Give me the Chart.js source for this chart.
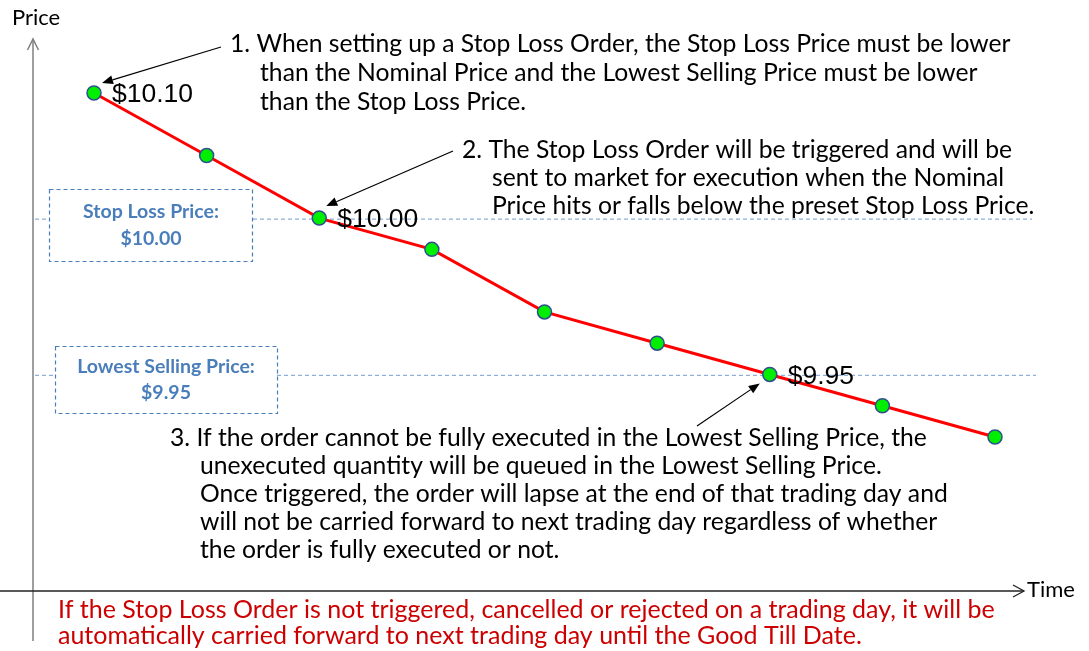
<!DOCTYPE html>
<html>
<head>
<meta charset="utf-8">
<script src="https://cdn.jsdelivr.net/npm/chart.js@4"></script>
<style>
  html, body { margin: 0; padding: 0; background: #ffffff; }
  #wrap { width: 1089px; height: 651px; }
</style>
</head>
<body>
<div id="wrap"><canvas id="c" width="1089" height="651"></canvas></div>
<script>
// ---- data ----
const categories = ['t1', 't2', 't3', 't4', 't5', 't6', 't7', 't8', 't9'];
const priceLevel = [11, 9, 7, 6, 4, 3, 2, 1, 0];
const pointLabels = ['$10.10', '', '$10.00', '', '', '', '$9.95', '', ''];
const stopLossLevel = 7;
const lowestSellingLevel = 2;
const stopLossBoxText = ['Stop Loss Price:', '$10.00'];
const lowestBoxText = ['Lowest Selling Price:', '$9.95'];
const note1 = ['1. When setting up a Stop Loss Order, the Stop Loss Price must be lower',
               'than the Nominal Price and the Lowest Selling Price must be lower',
               'than the Stop Loss Price.'];
const note2 = ['2. The Stop Loss Order will be triggered and will be',
               'sent to market for execution when the Nominal',
               'Price hits or falls below the preset Stop Loss Price.'];
const note3 = ['3. If the order cannot be fully executed in the Lowest Selling Price, the',
               'unexecuted quantity will be queued in the Lowest Selling Price.',
               'Once triggered, the order will lapse at the end of that trading day and',
               'will not be carried forward to next trading day regardless of whether',
               'the order is fully executed or not.'];
const footNote = ['If the Stop Loss Order is not triggered, cancelled or rejected on a trading day, it will be',
                  'automatically carried forward to next trading day until the Good Till Date.'];
const axisTitles = { y: 'Price', x: 'Time' };

const TEXT_FONT = '"Lato", "Open Sans", sans-serif';
const BOX_BLUE = '#4a7ebb';
const DASH_BLUE = '#8eaedb';

function arrow(ctx, x0, y0, x1, y1) {
  const ang = Math.atan2(y1 - y0, x1 - x0);
  const len = 11, w = 4.5;
  ctx.save();
  ctx.strokeStyle = '#000'; ctx.fillStyle = '#000'; ctx.lineWidth = 1.2;
  ctx.beginPath();
  ctx.moveTo(x0, y0);
  ctx.lineTo(x1 - Math.cos(ang) * len, y1 - Math.sin(ang) * len);
  ctx.stroke();
  ctx.beginPath();
  ctx.moveTo(x1, y1);
  ctx.lineTo(x1 - Math.cos(ang) * len - Math.sin(ang) * w, y1 - Math.sin(ang) * len + Math.cos(ang) * w);
  ctx.lineTo(x1 - Math.cos(ang) * len + Math.sin(ang) * w, y1 - Math.sin(ang) * len - Math.cos(ang) * w);
  ctx.closePath();
  ctx.fill();
  ctx.restore();
}

function lines(ctx, arr, x0, xRest, y0, dy) {
  arr.forEach((t, i) => ctx.fillText(t, i === 0 ? x0 : xRest, y0 + i * dy));
}

const diagram = {
  id: 'diagram',
  beforeDatasetsDraw(chart) {
    const ctx = chart.ctx;
    const ys = chart.scales.y;
    ctx.save();
    // Y axis
    ctx.strokeStyle = '#7f7f7f'; ctx.lineWidth = 1.5;
    ctx.beginPath(); ctx.moveTo(33, 641); ctx.lineTo(33, 39); ctx.stroke();
    ctx.beginPath(); ctx.moveTo(27.5, 50); ctx.lineTo(33, 39); ctx.lineTo(38.5, 50); ctx.stroke();
    // X axis
    ctx.strokeStyle = '#222'; ctx.lineWidth = 1.3;
    ctx.beginPath(); ctx.moveTo(0, 591); ctx.lineTo(1024, 591); ctx.stroke();
    ctx.beginPath(); ctx.moveTo(1013, 585); ctx.lineTo(1024, 591); ctx.lineTo(1013, 597); ctx.stroke();
    // dashed reference lines
    const ySL = ys.getPixelForValue(stopLossLevel) + 1;
    const yLS = ys.getPixelForValue(lowestSellingLevel) + 1;
    ctx.strokeStyle = DASH_BLUE; ctx.lineWidth = 1.2; ctx.setLineDash([4, 3]);
    ctx.beginPath(); ctx.moveTo(35, ySL); ctx.lineTo(49, ySL); ctx.moveTo(253, ySL); ctx.lineTo(1032, ySL); ctx.stroke();
    ctx.beginPath(); ctx.moveTo(35, yLS); ctx.lineTo(55, yLS); ctx.moveTo(277, yLS); ctx.lineTo(1036, yLS); ctx.stroke();
    // boxes
    ctx.strokeStyle = BOX_BLUE; ctx.lineWidth = 1.2; ctx.setLineDash([4, 3]);
    ctx.strokeRect(49.5, 189.5, 203, 72);
    ctx.strokeRect(55.5, 346.5, 222, 67);
    ctx.setLineDash([]);
    ctx.fillStyle = BOX_BLUE; ctx.font = 'bold 19.5px ' + TEXT_FONT;
    ctx.textAlign = 'center'; ctx.textBaseline = 'middle';
    ctx.fillText(stopLossBoxText[0], 151, 212);
    ctx.fillText(stopLossBoxText[1], 151, 239);
    ctx.fillText(lowestBoxText[0], 166, 367);
    ctx.fillText(lowestBoxText[1], 166, 393);
    ctx.restore();
  },
  afterDatasetsDraw(chart) {
    const ctx = chart.ctx;
    const meta = chart.getDatasetMeta(0);
    ctx.save();
    ctx.textBaseline = 'middle'; ctx.textAlign = 'left';
    // point labels
    ctx.fillStyle = '#000';
    ctx.font = '26.5px "Liberation Sans", Arial, sans-serif';
    meta.data.forEach((pt, i) => {
      if (pointLabels[i]) ctx.fillText(pointLabels[i], pt.x + 18, pt.y + 2);
    });
    // axis titles
    ctx.font = '22px ' + TEXT_FONT;
    ctx.fillText(axisTitles.y, 12, 18);
    ctx.fillText(axisTitles.x, 1027, 590);
    // notes
    ctx.font = '24.7px ' + TEXT_FONT;
    lines(ctx, note1, 230, 260, 44, 29);
    lines(ctx, note2, 462, 492, 150, 28);
    lines(ctx, note3, 170, 200, 438, 28);
    ctx.fillStyle = '#cc0000';
    ctx.font = '25px ' + TEXT_FONT;
    lines(ctx, footNote, 58, 58, 610, 26);
    // arrows
    const p0 = meta.data[0], p2 = meta.data[2], p6 = meta.data[6];
    arrow(ctx, 221, 47, p0.x + 8, p0.y - 10);
    arrow(ctx, 453, 151, p2.x + 7, p2.y - 12);
    arrow(ctx, 697, 426, p6.x - 10, p6.y + 9);
    ctx.restore();
  }
};

new Chart(document.getElementById('c'), {
  type: 'line',
  data: {
    labels: categories,
    datasets: [{
      data: priceLevel,
      borderColor: '#ff0000',
      borderWidth: 3,
      pointBackgroundColor: '#00ee00',
      pointBorderColor: '#2f4f8f',
      pointBorderWidth: 1.5,
      pointRadius: 7,
      tension: 0,
      clip: false
    }]
  },
  options: {
    responsive: false,
    animation: false,
    events: [],
    layout: { padding: { left: 94, right: 94, top: 93, bottom: 214 } },
    plugins: { legend: { display: false }, tooltip: { enabled: false } },
    scales: {
      x: { display: false, offset: false },
      y: { display: false, min: 0, max: 11 }
    }
  },
  plugins: [diagram]
});
</script>
</body>
</html>
